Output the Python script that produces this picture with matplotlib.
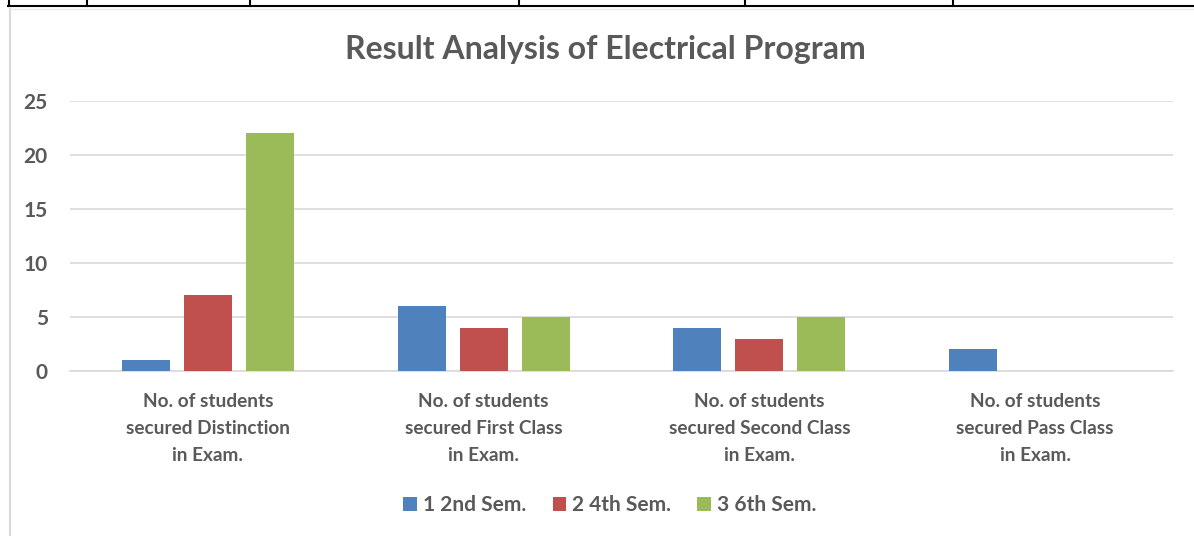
"""Result analysis bar chart — Excel-style clustered columns."""
import matplotlib
matplotlib.use("Agg")
import matplotlib.pyplot as plt
from matplotlib.lines import Line2D
from matplotlib.patches import Patch
import numpy as np

categories = [
    "No. of students\nsecured Distinction\nin Exam.",
    "No. of students\nsecured First Class\nin Exam.",
    "No. of students\nsecured Second Class\nin Exam.",
    "No. of students\nsecured Pass Class\nin Exam.",
]
series_names = ["1 2nd Sem.", "2 4th Sem.", "3 6th Sem."]
sem2 = [1, 6, 4, 2]
sem4 = [7, 4, 3, 0]
sem6 = [22, 5, 5, 0]
yticks = [0, 5, 10, 15, 20, 25]

colors = ["#4F81BD", "#C0504D", "#9BBB59"]
text_color = "#595959"
grid_color = "#D9D9D9"

plt.rcParams["font.family"] = ["Lato", "DejaVu Sans"]

fig = plt.figure(figsize=(11.94, 5.36), dpi=100)
ax = fig.add_axes([70 / 1194, 1 - 371 / 536, 1103 / 1194, 270 / 536])

x = np.arange(len(categories))
step, width = 0.225, 0.174
for i, (vals, c) in enumerate(zip([sem2, sem4, sem6], colors)):
    ax.bar(x + (i - 1) * step, vals, width=width, color=c, zorder=3)

ax.set_xlim(-0.5, len(categories) - 0.5)
ax.set_ylim(0, 25)
ax.set_yticks(yticks)
ax.set_yticklabels([str(t) for t in yticks], fontsize=15, fontweight="bold", color=text_color)
ax.set_xticks(x)
ax.set_xticklabels(categories, fontsize=13.7, fontweight="bold", color=text_color, linespacing=1.72)
ax.tick_params(axis="both", length=0)
ax.tick_params(axis="x", pad=15.5)
ax.tick_params(axis="y", pad=16)
ax.grid(axis="y", color=grid_color, linewidth=1.2, zorder=0)
for s in ["top", "right", "left"]:
    ax.spines[s].set_visible(False)
ax.spines["bottom"].set_color(grid_color)
ax.spines["bottom"].set_linewidth(1.2)

fig.text(605 / 1194, 1 - 50 / 536, "Result Analysis of Electrical Program",
         ha="center", va="center", fontsize=23, fontweight="bold", color=text_color)

handles = [Patch(facecolor=c, edgecolor="none") for c in colors]
fig.legend(handles, series_names, loc="center", bbox_to_anchor=(610 / 1194, 1 - 505 / 536),
           ncol=3, frameon=False, handlelength=0.65, handleheight=0.65, handletextpad=0.3,
           columnspacing=1.25, prop={"size": 15, "weight": "bold"}, labelcolor=text_color)

# surrounding document table borders
fig.add_artist(Line2D([8 / 1194, 1], [1 - 6 / 536] * 2, color="black", linewidth=1.5))
for vx in [9, 87, 250, 519, 745, 953]:
    fig.add_artist(Line2D([vx / 1194] * 2, [1, 1 - 6 / 536], color="black", linewidth=1.5))
fig.add_artist(Line2D([10 / 1194] * 2, [1 - 9 / 536, 0], color="#D9D9D9", linewidth=1.5))
fig.add_artist(Line2D([10 / 1194, 1], [1 - 9 / 536] * 2, color="#E8E8E8", linewidth=1.0))

fig.savefig("out.png", dpi=100)
